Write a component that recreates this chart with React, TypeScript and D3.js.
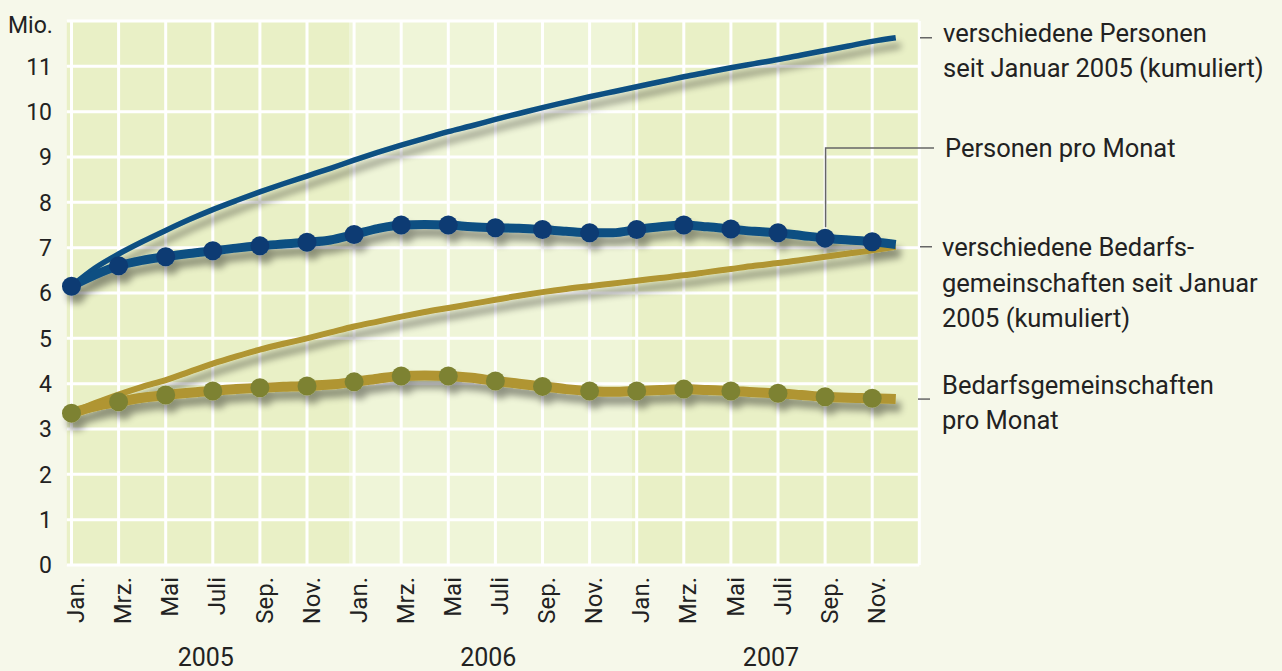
import React from "react";
import * as d3 from "d3";

// months Jan 2005 .. Dez 2007 (index 0..35)
const monthLabels = ["Jan.", "Mrz.", "Mai", "Juli", "Sep.", "Nov."];
const years = ["2005", "2006", "2007"];
const yTicks = [0, 1, 2, 3, 4, 5, 6, 7, 8, 9, 10, 11];

// Mio.
const personenKumuliert = [
  6.15, 6.55, 6.86, 7.13, 7.38, 7.62, 7.84, 8.04, 8.23, 8.41, 8.58, 8.75,
  8.93, 9.1, 9.26, 9.41, 9.56, 9.69, 9.83, 9.96, 10.09, 10.21, 10.33, 10.44,
  10.55, 10.66, 10.77, 10.87, 10.97, 11.06, 11.15, 11.25, 11.35, 11.45, 11.55, 11.63,
];
const personenMonat = [
  6.15, 6.4, 6.6, 6.72, 6.8, 6.87, 6.93, 6.99, 7.04, 7.08, 7.12, 7.17,
  7.29, 7.42, 7.5, 7.51, 7.5, 7.46, 7.44, 7.43, 7.4, 7.36, 7.33, 7.33,
  7.4, 7.46, 7.5, 7.46, 7.41, 7.36, 7.33, 7.27, 7.21, 7.17, 7.13, 7.07,
];
const bgKumuliert = [
  3.35, 3.57, 3.76, 3.93, 4.08, 4.26, 4.44, 4.6, 4.75, 4.88, 5.0, 5.13,
  5.26, 5.37, 5.48, 5.58, 5.67, 5.76, 5.85, 5.94, 6.02, 6.09, 6.15, 6.21,
  6.27, 6.33, 6.39, 6.46, 6.53, 6.6, 6.66, 6.73, 6.8, 6.87, 6.94, 7.02,
];
const bgMonat = [
  3.35, 3.5, 3.6, 3.69, 3.75, 3.8, 3.84, 3.88, 3.91, 3.93, 3.95, 3.98,
  4.04, 4.11, 4.17, 4.18, 4.17, 4.13, 4.06, 4.0, 3.94, 3.88, 3.84, 3.82,
  3.84, 3.86, 3.88, 3.86, 3.84, 3.81, 3.79, 3.75, 3.71, 3.69, 3.68, 3.66,
];

const W = 1282;
const H = 671;
const FONT = "Roboto, 'Noto Sans', sans-serif";

const x = d3.scaleLinear().domain([0, 36]).range([71.5, 919.3]);
const y = d3.scaleLinear().domain([0, 12]).range([565, 21]);

const line = d3
  .line<number>()
  .x((d, i) => x(i))
  .y((d) => y(d))
  .curve(d3.curveMonotoneX);

const BLUE = "#0a4f82";
const BLUE_DOT = "#0b3a73";
const GOLD = "#b09530";
const GOLD_DOT = "#7d8232";

export default function App() {
  const idx = d3.range(36);
  const dotIdx = idx.filter((i) => i % 2 === 0);
  const bands = [
    [-0.2, 11.8, "#e9f0c6"],
    [11.8, 23.8, "#eff5d8"],
    [23.8, 36, "#e9f0c6"],
  ] as const;

  return (
    <div style={{ position: "absolute", left: 0, top: 0 }}>
      <svg width={W} height={H} style={{ display: "block", fontFamily: FONT }}>
        <defs>
          <filter id="shadow" x="-10%" y="-20%" width="120%" height="160%">
            <feGaussianBlur in="SourceAlpha" stdDeviation="3.5" />
            <feOffset dx="5" dy="8" result="b" />
            <feComponentTransfer>
              <feFuncA type="linear" slope="0.4" />
            </feComponentTransfer>
            <feMerge>
              <feMergeNode />
              <feMergeNode in="SourceGraphic" />
            </feMerge>
          </filter>
        </defs>
        <rect width={W} height={H} fill="#f6f8ea" />

        {bands.map(([a, b, c], k) => (
          <rect key={k} x={x(a)} y={y(12)} width={x(b) - x(a)} height={y(0) - y(12)} fill={c} />
        ))}

        {/* grid */}
        {yTicks.concat([12]).map((t) => (
          <line key={"h" + t} x1={x(-0.2)} x2={x(36)} y1={y(t)} y2={y(t)} stroke="#fff" strokeWidth={3} />
        ))}
        {d3.range(0, 37, 2).map((i) => (
          <line key={"v" + i} x1={x(i)} x2={x(i)} y1={y(12)} y2={y(0)} stroke="#fff" strokeWidth={3} />
        ))}

        {/* y axis labels */}
        {yTicks.map((t) => (
          <text key={"yt" + t} x={52} y={y(t)} dy="0.36em" textAnchor="end" fontSize={23} fill="#222">
            {t}
          </text>
        ))}
        <text x={8} y={33} fontSize={23} fill="#222">Mio.</text>

        {/* x axis labels */}
        {dotIdx.map((i) => (
          <text
            key={"xt" + i}
            transform={`translate(${x(i) + 4},577) rotate(-90)`}
            dy="0.36em"
            textAnchor="end"
            fontSize={24}
            fill="#222"
          >
            {monthLabels[(i / 2) % 6]}
          </text>
        ))}
        {years.map((yr, k) => (
          <text key={yr} x={x(5.7 + 12 * k)} y={666} textAnchor="middle" fontSize={25} fill="#222">
            {yr}
          </text>
        ))}

        {/* series */}
        <g filter="url(#shadow)">
          <path d={line(bgKumuliert) || ""} fill="none" stroke={GOLD} strokeWidth={6} />
          <path d={line(bgMonat) || ""} fill="none" stroke={GOLD} strokeWidth={10} />
          {dotIdx.map((i) => (
            <circle key={"gd" + i} cx={x(i)} cy={y(bgMonat[i])} r={9.5} fill={GOLD_DOT} />
          ))}
          <path d={line(personenKumuliert) || ""} fill="none" stroke={BLUE} strokeWidth={5.5} />
          <path d={line(personenMonat) || ""} fill="none" stroke={BLUE} strokeWidth={9} />
          {dotIdx.map((i) => (
            <circle key={"bd" + i} cx={x(i)} cy={y(personenMonat[i])} r={9.5} fill={BLUE_DOT} />
          ))}
        </g>

        {/* leader lines */}
        <g stroke="#666" strokeWidth={1.5} fill="none">
          <line x1={920} x2={932} y1={y(personenKumuliert[35])} y2={y(personenKumuliert[35])} />
          <polyline points={`${x(32) + 0.5},${y(personenMonat[32]) - 11} ${x(32) + 0.5},148 934,148`} />
          <line x1={920} x2={932} y1={y(bgKumuliert[35])} y2={y(bgKumuliert[35])} />
          <line x1={918} x2={930} y1={y(bgMonat[35])} y2={y(bgMonat[35])} />
        </g>

        {/* legend texts */}
        <g fontSize={25.5} fill="#222">
          <text x={943} y={42}>verschiedene Personen</text>
          <text x={943} y={77}>seit Januar 2005 (kumuliert)</text>
          <text x={945} y={157}>Personen pro Monat</text>
          <text x={942} y={256}>verschiedene Bedarfs-</text>
          <text x={942} y={292}>gemeinschaften seit Januar</text>
          <text x={942} y={327}>2005 (kumuliert)</text>
          <text x={942} y={394}>Bedarfsgemeinschaften</text>
          <text x={942} y={429}>pro Monat</text>
        </g>
      </svg>
    </div>
  );
}
